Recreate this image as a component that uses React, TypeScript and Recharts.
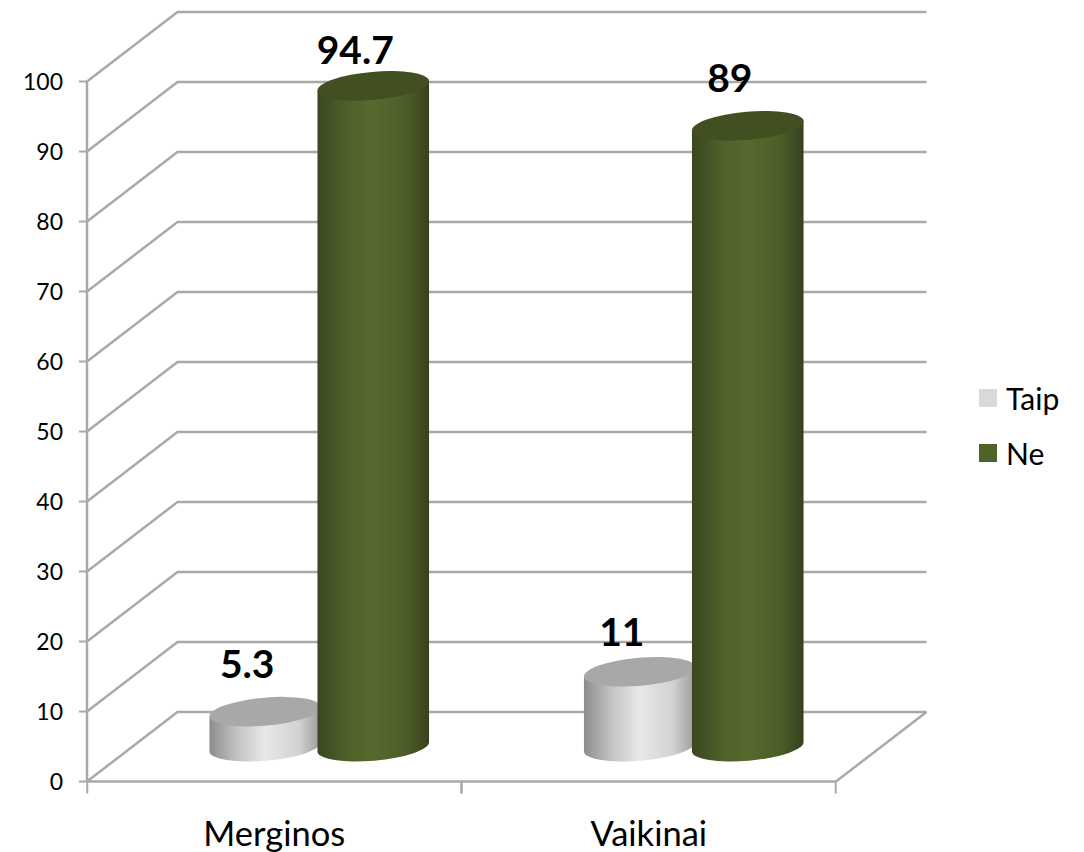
import { BarChart, Bar, XAxis, YAxis, CartesianGrid, Legend, LabelList } from 'recharts';

const categories = ['Merginos', 'Vaikinai'];
const taipValues = [5.3, 11];
const neValues = [94.7, 89];
const yTicks = [0, 10, 20, 30, 40, 50, 60, 70, 80, 90, 100];

const data = categories.map((name, i) => ({ name, Taip: taipValues[i], Ne: neValues[i] }));

const FONT = 'Lato, "Open Sans", sans-serif';
const GRID = '#a9a9a9';
const DEPTH_X = 90.5;
const DEPTH_Y = 69.5;
const RX = 56;
const RY = 14;
const TILT = -5;
const TOP_DROP = 2;

const LEGEND_ITEMS = [
  { label: 'Taip', color: '#d9d9d9' },
  { label: 'Ne', color: '#4f6228' },
];

// the labels were placed by hand in the original, not at a fixed distance
const TAIP_LIFT = [47, 39];
const NE_LIFT = [35, 47];

function GridLine(props: any) {
  const { x1, y1, x2, y2 } = props;
  const backY = y1 - DEPTH_Y;
  const isFloor = y1 > 781;
  return (
    <g>
      <path d={`M${x1} ${y1}L${x1 + DEPTH_X} ${backY}L${x2 + DEPTH_X} ${y2 - DEPTH_Y}`} fill="none" stroke={GRID} strokeWidth={2.5} />
      {isFloor && <line x1={x2} y1={y2} x2={x2 + DEPTH_X} y2={backY} stroke={GRID} strokeWidth={2.5} />}
    </g>
  );
}

function Cylinder(props: any) {
  const { x, y, width, height, gradient, top } = props;
  const cx = x + width / 2 + DEPTH_X / 2;
  const topY = y - DEPTH_Y / 2 + TOP_DROP;
  const botY = y + height - DEPTH_Y / 2;
  const dx = RX * Math.cos((TILT * Math.PI) / 180);
  const dy = RX * Math.sin((TILT * Math.PI) / 180);
  const body = `M${cx - dx} ${topY - dy}L${cx - dx} ${botY - dy}A${RX} ${RY} ${TILT} 0 0 ${cx + dx} ${botY + dy}L${cx + dx} ${topY + dy}Z`;
  return (
    <g>
      <path d={body} fill={`url(#${gradient})`} />
      <ellipse cx={cx} cy={topY} rx={RX} ry={RY} fill={top} transform={`rotate(${TILT} ${cx} ${topY})`} />
    </g>
  );
}

function ValueLabel(props: any) {
  const { x, y, width, value, index, lift } = props;
  return (
    <text
      x={x + width / 2 + DEPTH_X / 2 - 18}
      y={y - DEPTH_Y / 2 - lift[index]}
      textAnchor="middle"
      dominantBaseline="central"
      fontFamily={FONT}
      fontWeight={700}
      fontSize={39}
      fill="#000"
    >
      {value}
    </text>
  );
}

function CategoryTick(props: any) {
  const { x, y, payload } = props;
  const step = 374;
  return (
    <g>
      <line x1={x - step / 2} y1={y - 8} x2={x - step / 2} y2={y + 4} stroke={GRID} strokeWidth={2} />
      <line x1={x + step / 2} y1={y - 8} x2={x + step / 2} y2={y + 4} stroke={GRID} strokeWidth={2} />
      <text x={x} y={832} textAnchor="middle" dominantBaseline="central" fontFamily={FONT} fontSize={34.5} fill="#000">
        {payload.value}
      </text>
    </g>
  );
}

function ChartLegend() {
  return (
    <div style={{ fontFamily: FONT, fontSize: 30, color: '#000' }}>
      {LEGEND_ITEMS.map((item) => (
        <div key={item.label} style={{ display: 'flex', alignItems: 'center', height: 55 }}>
          <span style={{ width: 18, height: 18, background: item.color, marginRight: 9 }} />
          {item.label}
        </div>
      ))}
    </div>
  );
}

export default function App() {
  return (
    <div style={{ position: 'absolute', left: 0, top: 0 }}>
      <BarChart
        width={1084}
        height={852}
        data={data}
        barSize={112}
        barGap={-4}
        margin={{ top: 81.5, right: 248, bottom: 0, left: 0 }}
      >
        <defs>
          <linearGradient id="taipBody" x1="0" y1="0" x2="1" y2="0">
            <stop offset="0" stopColor="#8c8c8c" />
            <stop offset="0.25" stopColor="#c4c4c4" />
            <stop offset="0.5" stopColor="#e8e8e8" />
            <stop offset="0.8" stopColor="#d2d2d2" />
            <stop offset="1" stopColor="#9a9a9a" />
          </linearGradient>
          <linearGradient id="neBody" x1="0" y1="0" x2="1" y2="0">
            <stop offset="0" stopColor="#3a4720" />
            <stop offset="0.25" stopColor="#4e5f29" />
            <stop offset="0.5" stopColor="#58692e" />
            <stop offset="0.8" stopColor="#4c5c28" />
            <stop offset="1" stopColor="#36421d" />
          </linearGradient>
        </defs>
        <CartesianGrid vertical={false} horizontal={(p: any) => <GridLine key={p.key} {...p} />} />
        <XAxis
          dataKey="name"
          height={70.5}
          axisLine={{ stroke: GRID, strokeWidth: 2.5 }}
          tickLine={false}
          tick={<CategoryTick />}
          interval={0}
        />
        <YAxis
          domain={[0, 100]}
          ticks={yTicks}
          width={87}
          interval={0}
          axisLine={{ stroke: GRID, strokeWidth: 2.5 }}
          tickLine={{ stroke: GRID, strokeWidth: 2 }}
          tickSize={8}
          tickMargin={16}
          tick={{ fontFamily: FONT, fontSize: 23, fill: '#000' }}
        />
        <Legend
          layout="vertical"
          align="center"
          verticalAlign="middle"
          wrapperStyle={{ left: 979, top: 370, width: 105 }}
          content={<ChartLegend />}
        />
        <Bar
          dataKey="Taip"
          isAnimationActive={false}
          shape={(p: any) => <Cylinder {...p} gradient="taipBody" top="#a8a8a8" />}
        >
          <LabelList dataKey="Taip" content={(p: any) => <ValueLabel {...p} lift={TAIP_LIFT} />} />
        </Bar>
        <Bar
          dataKey="Ne"
          isAnimationActive={false}
          shape={(p: any) => <Cylinder {...p} gradient="neBody" top="#414f21" />}
        >
          <LabelList dataKey="Ne" content={(p: any) => <ValueLabel {...p} lift={NE_LIFT} />} />
        </Bar>
      </BarChart>
    </div>
  );
}
